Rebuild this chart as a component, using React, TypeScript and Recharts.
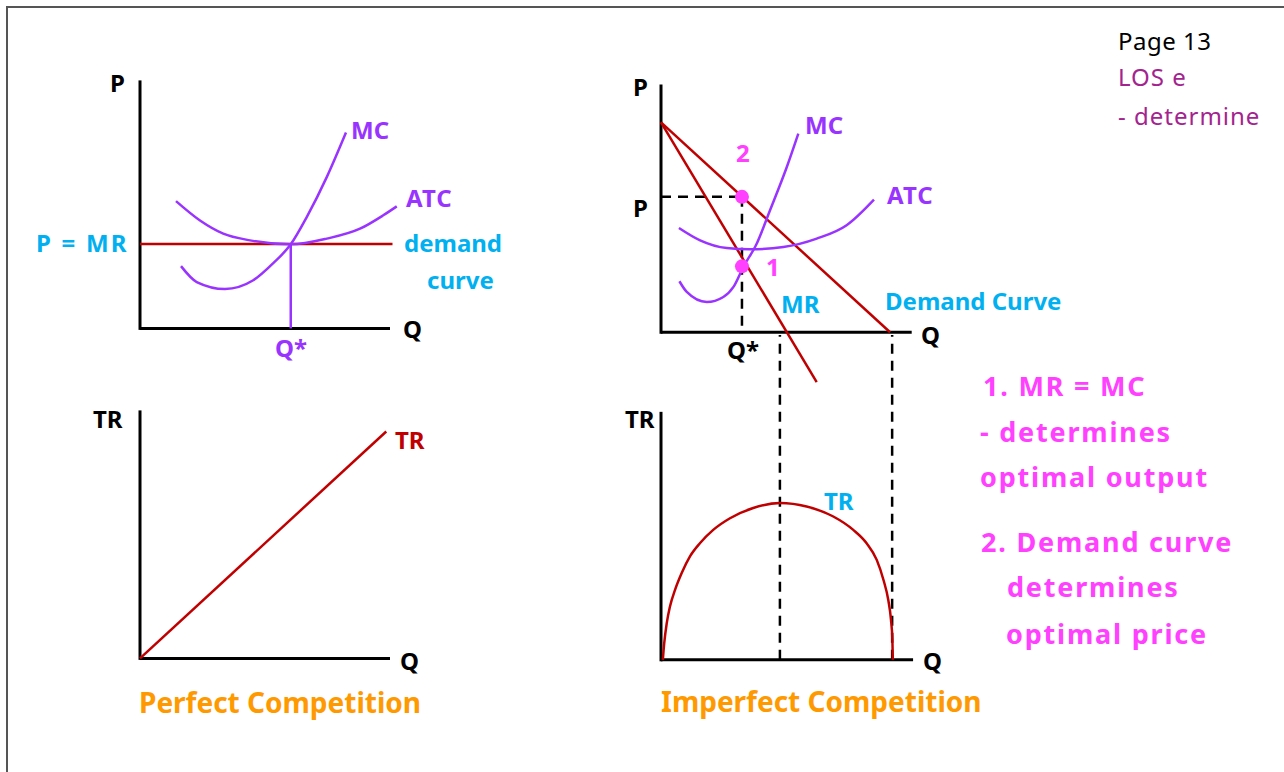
import React from 'react'
import { ComposedChart, Line, XAxis, YAxis, ReferenceLine, ReferenceDot } from 'recharts'

const FONT = '"Comic Sans MS", "Noto Sans", sans-serif'
const PURPLE = '#9933FF'
const RED = '#C00000'
const CYAN = '#00B0F0'
const PINK = '#FF40FF'
const ORANGE = '#FF9900'
const PLUM = '#A3238F'

// perfect competition, top panel (q, p)
const pcPriceLine = [{ q: 0, p: 3.4 }, { q: 10.1, p: 3.4 }]
const pcMC = [
  { q: 1.64, p: 2.51 }, { q: 2.27, p: 1.87 }, { q: 3.4, p: 1.59 }, { q: 4.53, p: 1.94 },
  { q: 5.33, p: 2.63 }, { q: 6.03, p: 3.39 }, { q: 6.67, p: 4.49 }, { q: 7.47, p: 6.1 }, { q: 8.24, p: 7.9 },
]
const pcATC = [
  { q: 1.44, p: 5.13 }, { q: 2.4, p: 4.35 }, { q: 3.33, p: 3.82 }, { q: 4.4, p: 3.55 },
  { q: 6.03, p: 3.39 }, { q: 7.47, p: 3.62 }, { q: 8.8, p: 4.02 }, { q: 9.73, p: 4.56 }, { q: 10.27, p: 4.92 },
]
const pcQstar = 6.03
// perfect competition, bottom panel (q, tr)
const pcTR = [{ q: 0, tr: 0 }, { q: 9.85, tr: 9.15 }]

// imperfect competition, top panel (q, p)
const icDemand = [{ q: 0, p: 10 }, { q: 9.96, p: 0 }]
const icMR = [{ q: 0, p: 10 }, { q: 6.77, p: -2.37 }]
const icMC = [
  { q: 0.8, p: 2.43 }, { q: 1.12, p: 1.92 }, { q: 1.99, p: 1.44 }, { q: 2.71, p: 1.68 }, { q: 3.15, p: 2.16 },
  { q: 3.58, p: 3.11 }, { q: 4.16, p: 4.22 }, { q: 4.74, p: 5.81 }, { q: 5.47, p: 7.87 }, { q: 5.97, p: 9.46 },
]
const icATC = [
  { q: 0.78, p: 4.97 }, { q: 1.7, p: 4.38 }, { q: 2.86, p: 4.01 }, { q: 3.87, p: 3.95 },
  { q: 5.32, p: 4.06 }, { q: 6.77, p: 4.46 }, { q: 8.07, p: 5.1 }, { q: 9.26, p: 6.32 },
]
const icQstar = 3.52
const icPrice = 6.45
const icMRatQstar = 3.14
// imperfect competition, bottom panel (q, tr)
const icTR = [
  { q: 0.08, tr: 0 }, { q: 0.14, tr: 0.67 }, { q: 0.25, tr: 1.48 }, { q: 0.39, tr: 2.15 }, { q: 0.61, tr: 2.82 },
  { q: 0.9, tr: 3.5 }, { q: 1.26, tr: 4.17 }, { q: 1.7, tr: 4.71 }, { q: 2.27, tr: 5.24 }, { q: 3.0, tr: 5.71 },
  { q: 4.01, tr: 6.12 }, { q: 5.17, tr: 6.32 }, { q: 6.33, tr: 6.18 }, { q: 7.49, tr: 5.78 }, { q: 8.36, tr: 5.24 },
  { q: 8.94, tr: 4.7 }, { q: 9.38, tr: 4.03 }, { q: 9.67, tr: 3.23 }, { q: 9.88, tr: 2.42 }, { q: 10.0, tr: 1.61 },
  { q: 10.06, tr: 0.81 }, { q: 10.08, tr: 0 },
]
const icTRpeakQ = 5.17
const icTRzeroQ = 10.05

type PanelProps = {
  ox: number
  oy: number
  sx: number
  sy: number
  xDomain: [number, number]
  yDomain: [number, number]
  children: React.ReactNode
}

function Panel({ ox, oy, sx, sy, xDomain, yDomain, children }: PanelProps) {
  const width = (xDomain[1] - xDomain[0]) * sx
  const height = (yDomain[1] - yDomain[0]) * sy
  const left = ox + xDomain[0] * sx
  const top = oy - yDomain[1] * sy
  return (
    <div style={{ position: 'absolute', left, top, width, height }}>
      <ComposedChart width={width} height={height} margin={{ top: 0, right: 0, bottom: 0, left: 0 }}>
        <XAxis type="number" dataKey="q" domain={xDomain} hide allowDataOverflow />
        <YAxis type="number" domain={yDomain} hide allowDataOverflow />
        {children}
      </ComposedChart>
    </div>
  )
}

function Txt({ x, y, size = 24, color = '#000', weight = 700, spacing = 0, children }: any) {
  return (
    <div
      style={{
        position: 'absolute', left: x, top: y - size * 0.63, fontSize: size, lineHeight: `${size * 1.2}px`,
        color, fontWeight: weight, fontFamily: FONT, whiteSpace: 'nowrap', letterSpacing: spacing,
      }}
    >
      {children}
    </div>
  )
}

const axisProps = { stroke: '#000', strokeWidth: 3 }
const dashProps = { stroke: '#000', strokeWidth: 2.5, strokeDasharray: '10 7' }

export default function App() {
  return (
    <div style={{ position: 'fixed', left: 0, top: 0, width: 1284, height: 772, overflow: 'hidden', background: '#fff' }}>
      <div style={{ position: 'absolute', left: 6, top: 6, width: 1300, height: 800, borderLeft: '2px solid #555', borderTop: '2px solid #555' }} />

      {/* perfect competition: cost curves */}
      <Panel ox={140} oy={328} sx={25} sy={24.8} xDomain={[-1, 11.5]} yDomain={[-0.8, 10.5]}>
        <ReferenceLine segment={[{ x: 0, y: -0.06 }, { x: 0, y: 10 }]} {...axisProps} />
        <ReferenceLine segment={[{ x: 0, y: 0 }, { x: 10, y: 0 }]} {...axisProps} />
        <ReferenceLine segment={[{ x: pcQstar, y: 0 }, { x: pcQstar, y: 3.4 }]} stroke={PURPLE} strokeWidth={2.5} />
        <Line data={pcPriceLine} dataKey="p" type="linear" stroke={RED} strokeWidth={2.5} dot={false} isAnimationActive={false} />
        <Line data={pcATC} dataKey="p" type="monotone" stroke={PURPLE} strokeWidth={2.5} dot={false} isAnimationActive={false} />
        <Line data={pcMC} dataKey="p" type="monotone" stroke={PURPLE} strokeWidth={2.5} dot={false} isAnimationActive={false} />
      </Panel>

      {/* perfect competition: total revenue */}
      <Panel ox={140} oy={658} sx={25} sy={24.8} xDomain={[-1, 11.5]} yDomain={[-0.8, 10.5]}>
        <ReferenceLine segment={[{ x: 0, y: -0.06 }, { x: 0, y: 10 }]} {...axisProps} />
        <ReferenceLine segment={[{ x: 0, y: 0 }, { x: 10, y: 0 }]} {...axisProps} />
        <Line data={pcTR} dataKey="tr" type="linear" stroke={RED} strokeWidth={2.5} dot={false} isAnimationActive={false} />
      </Panel>

      {/* imperfect competition: cost and revenue curves */}
      <Panel ox={661} oy={332} sx={23} sy={21} xDomain={[-1, 12]} yDomain={[-2.6, 12.3]}>
        <ReferenceLine segment={[{ x: 0, y: -0.07 }, { x: 0, y: 11.8 }]} {...axisProps} />
        <ReferenceLine segment={[{ x: 0, y: 0 }, { x: 10.9, y: 0 }]} {...axisProps} />
        <ReferenceLine segment={[{ x: 0, y: icPrice }, { x: icQstar, y: icPrice }]} {...dashProps} />
        <ReferenceLine segment={[{ x: icQstar, y: icPrice }, { x: icQstar, y: 0 }]} {...dashProps} />
        <Line data={icDemand} dataKey="p" type="linear" stroke={RED} strokeWidth={2.5} dot={false} isAnimationActive={false} />
        <Line data={icMR} dataKey="p" type="linear" stroke={RED} strokeWidth={2.5} dot={false} isAnimationActive={false} />
        <Line data={icATC} dataKey="p" type="monotone" stroke={PURPLE} strokeWidth={2.5} dot={false} isAnimationActive={false} />
        <Line data={icMC} dataKey="p" type="monotone" stroke={PURPLE} strokeWidth={2.5} dot={false} isAnimationActive={false} />
        <ReferenceDot x={icQstar} y={icPrice} r={7} fill={PINK} stroke="none" />
        <ReferenceDot x={icQstar} y={icMRatQstar} r={7} fill={PINK} stroke="none" />
      </Panel>

      {/* imperfect competition: total revenue */}
      <Panel ox={661} oy={660} sx={23} sy={24.8} xDomain={[-1, 12]} yDomain={[-0.5, 13.3]}>
        <ReferenceLine segment={[{ x: 0, y: -0.06 }, { x: 0, y: 10 }]} {...axisProps} />
        <ReferenceLine segment={[{ x: 0, y: 0 }, { x: 10.96, y: 0 }]} {...axisProps} />
        <ReferenceLine segment={[{ x: icTRpeakQ, y: 0 }, { x: icTRpeakQ, y: 13.1 }]} {...dashProps} />
        <ReferenceLine segment={[{ x: icTRzeroQ, y: 0 }, { x: icTRzeroQ, y: 13.1 }]} {...dashProps} />
        <Line data={icTR} dataKey="tr" type="monotone" stroke={RED} strokeWidth={2.5} dot={false} isAnimationActive={false} />
      </Panel>

      {/* labels, perfect competition */}
      <Txt x={110} y={84}>P</Txt>
      <Txt x={403} y={330}>Q</Txt>
      <Txt x={351} y={131} color={PURPLE}>MC</Txt>
      <Txt x={406} y={199} color={PURPLE} spacing={1}>ATC</Txt>
      <Txt x={36} y={244} color={CYAN} spacing={2.2}>P = MR</Txt>
      <Txt x={404} y={244} color={CYAN}>demand</Txt>
      <Txt x={427} y={281} color={CYAN}>curve</Txt>
      <Txt x={275} y={349} color={PURPLE}>Q*</Txt>
      <Txt x={93} y={420}>TR</Txt>
      <Txt x={395} y={441} color={RED}>TR</Txt>
      <Txt x={400} y={662}>Q</Txt>
      <Txt x={139} y={704} size={28} color={ORANGE}>Perfect Competition</Txt>

      {/* labels, imperfect competition */}
      <Txt x={633} y={88}>P</Txt>
      <Txt x={805} y={126} color={PURPLE}>MC</Txt>
      <Txt x={736} y={154} color={PINK}>2</Txt>
      <Txt x={633} y={209}>P</Txt>
      <Txt x={887} y={196} color={PURPLE} spacing={1}>ATC</Txt>
      <Txt x={766} y={268} color={PINK}>1</Txt>
      <Txt x={781} y={305} color={CYAN}>MR</Txt>
      <Txt x={885} y={302} color={CYAN}>Demand Curve</Txt>
      <Txt x={727} y={351}>Q*</Txt>
      <Txt x={921} y={336}>Q</Txt>
      <Txt x={625} y={420}>TR</Txt>
      <Txt x={824} y={502} color={CYAN}>TR</Txt>
      <Txt x={923} y={662}>Q</Txt>
      <Txt x={661} y={703} size={28} color={ORANGE}>Imperfect Competition</Txt>

      {/* notes */}
      <Txt x={1118} y={42} size={24} weight={400} spacing={0.5}>Page 13</Txt>
      <Txt x={1118} y={78} size={24} weight={400} spacing={1} color={PLUM}>LOS e</Txt>
      <Txt x={1118} y={117} size={24} weight={400} spacing={1} color={PLUM}>- determine</Txt>
      <Txt x={983} y={387} size={27} spacing={1.8} color={PINK}>1. MR = MC</Txt>
      <Txt x={980} y={433} size={27} spacing={1.8} color={PINK}>- determines</Txt>
      <Txt x={980} y={478} size={27} spacing={1.8} color={PINK}>optimal output</Txt>
      <Txt x={981} y={543} size={27} spacing={1.8} color={PINK}>2. Demand curve</Txt>
      <Txt x={1007} y={588} size={27} spacing={1.8} color={PINK}>determines</Txt>
      <Txt x={1006} y={635} size={27} spacing={1.8} color={PINK}>optimal price</Txt>
    </div>
  )
}
